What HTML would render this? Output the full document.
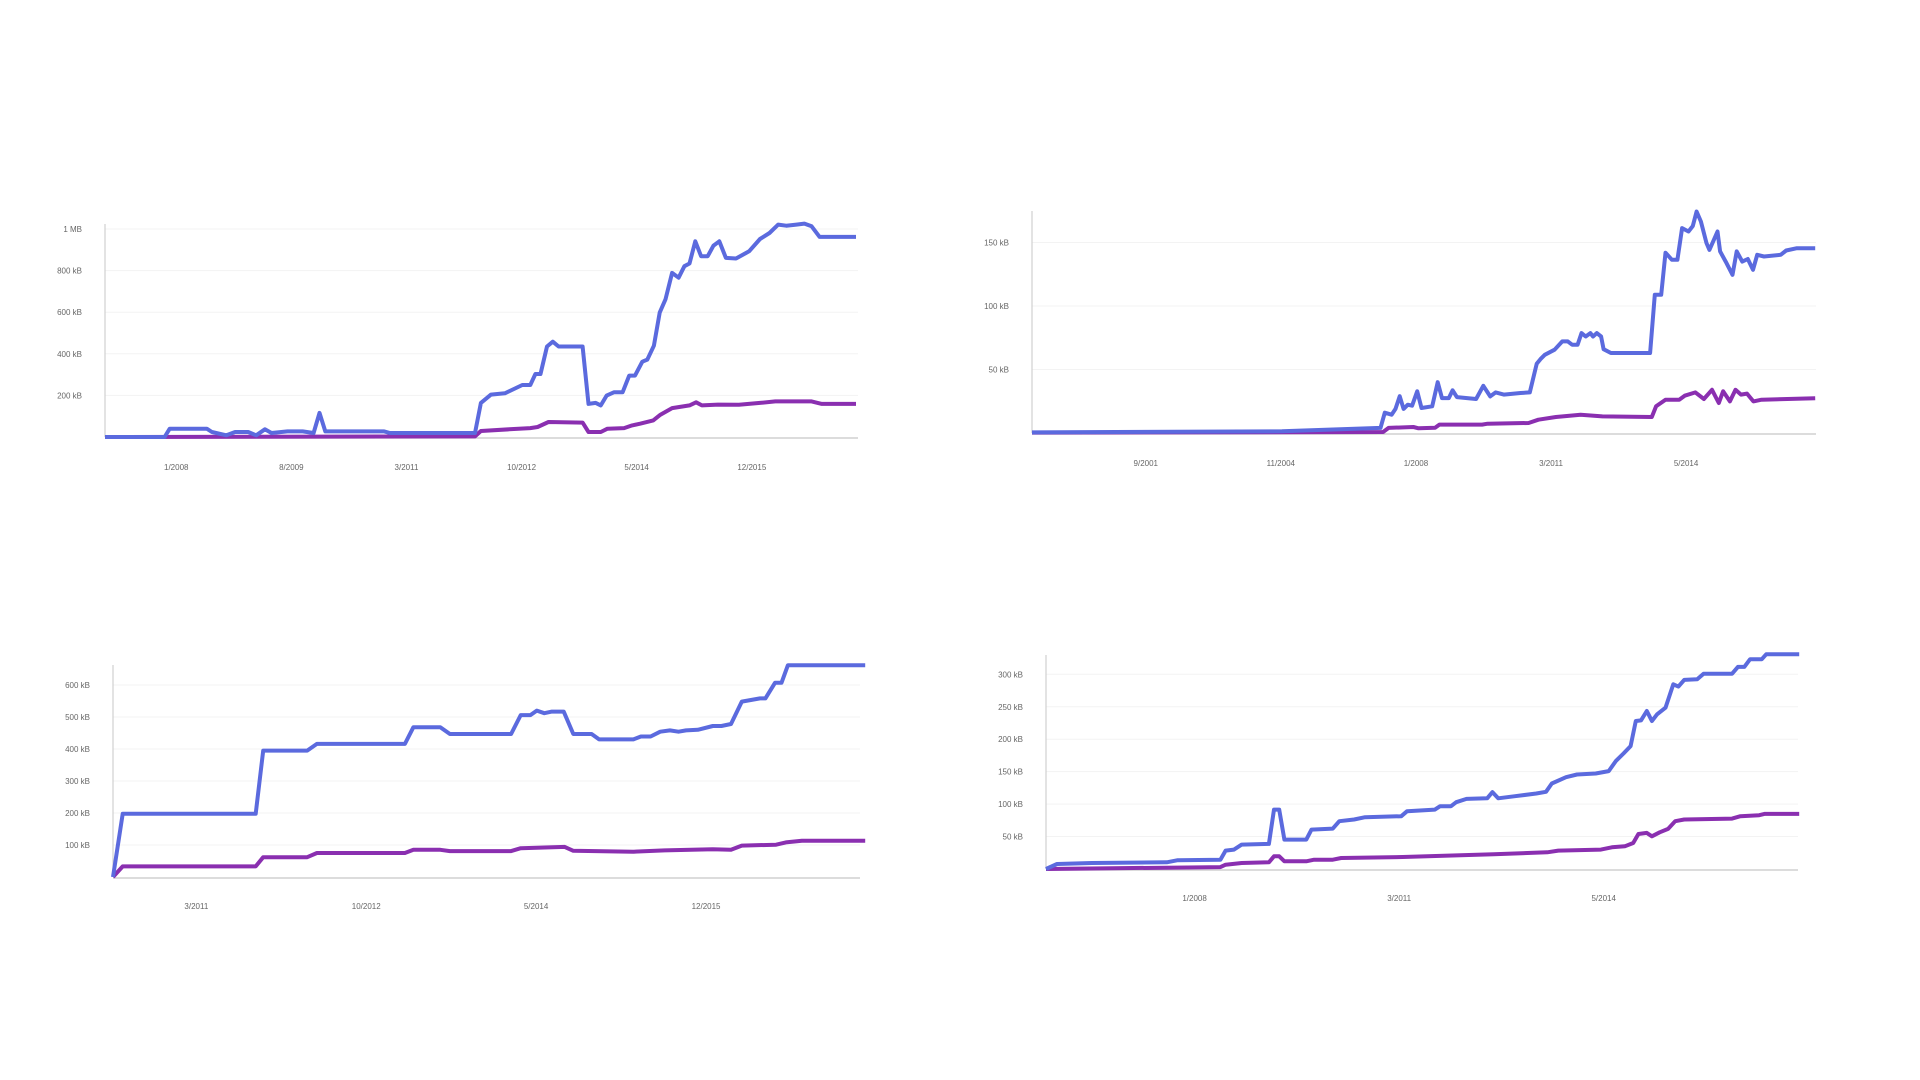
<!DOCTYPE html>
<html><head><meta charset="utf-8">
<style>
html,body{margin:0;padding:0;background:#fff;width:1920px;height:1080px;overflow:hidden}
svg{position:absolute;left:0;top:0}
text{font-family:"Liberation Sans",sans-serif;font-size:8px;fill:#666}
</style></head>
<body>
<svg id="chart" width="1920" height="1080" viewBox="0 0 1920 1080"></svg>
<script>
// Chart 1 data (years, kB)
const c1BlueX=[2007.02,2007.84,2007.91,2008.42,2008.49,2008.69,2008.81,2008.99,2009.1,2009.22,2009.31,2009.53,2009.74,2009.89,2009.97,2010.05,2010.86,2010.94,2012.11,2012.19,2012.33,2012.52,2012.76,2012.87,2012.94,2013.01,2013.1,2013.18,2013.26,2013.59,2013.67,2013.77,2013.84,2013.92,2014.02,2014.14,2014.23,2014.31,2014.41,2014.48,2014.57,2014.65,2014.73,2014.82,2014.91,2014.99,2015.06,2015.14,2015.22,2015.31,2015.39,2015.47,2015.56,2015.7,2015.88,2016.03,2016.16,2016.28,2016.39,2016.53,2016.64,2016.74,2016.85,2017.35];
const c1BlueY=[0,0,40,40,24,8,24,24,8,37,19,27,27,19,116,27,27,19,19,164,204,210,250,250,303,303,435,458,435,435,159,164,152,199,215,215,295,295,362,372,439,598,662,789,766,821,834,941,869,869,920,941,861,858,893,952,981,1021,1016,1021,1026,1013,962,962];
const c1PurpX=[2007.02,2012.11,2012.19,2012.58,2012.87,2012.97,2013.12,2013.59,2013.67,2013.84,2013.93,2014.16,2014.27,2014.38,2014.56,2014.66,2014.82,2015.06,2015.15,2015.23,2015.45,2015.74,2016.03,2016.24,2016.74,2016.88,2017.35];
const c1PurpY=[0,3,29,37,43,48,72,69,24,24,40,43,56,64,80,107,139,152,167,152,156,155,164,171,171,159,159];
const c1YTicks=[200,400,600,800,1000];
const c1YLabels=["200 kB","400 kB","600 kB","800 kB","1 MB"];
const c1XTicks=[2008.0,2009.583,2011.167,2012.75,2014.333,2015.917];
const c1XLabels=["1/2008","8/2009","3/2011","10/2012","5/2014","12/2015"];

// Chart 2 data
const c2BlueX=[1999.0,2004.86,2007.17,2007.27,2007.43,2007.52,2007.62,2007.71,2007.81,2007.91,2008.03,2008.13,2008.38,2008.51,2008.61,2008.77,2008.86,2008.96,2009.41,2009.58,2009.74,2009.87,2010.06,2010.45,2010.67,2010.83,2010.92,2011.02,2011.25,2011.43,2011.56,2011.66,2011.79,2011.88,2011.98,2012.09,2012.15,2012.24,2012.34,2012.4,2012.57,2013.49,2013.6,2013.75,2013.85,2014.0,2014.13,2014.24,2014.39,2014.49,2014.58,2014.68,2014.81,2014.88,2015.0,2015.07,2015.13,2015.26,2015.42,2015.52,2015.65,2015.78,2015.9,2016.0,2016.16,2016.55,2016.68,2016.93,2017.36];
const c2BlueY=[0.5,1.3,4,16,14.4,19,29,19,22.3,21.5,32.8,19.7,21,40,27.5,27.5,33.6,28.3,26.8,37.2,28.8,32,30.2,31.5,32,54.5,58.2,61.6,65.6,72.1,72.1,69.5,69.5,78.7,76,78.7,76,78.7,76,66,63,63,108.8,108.8,142,136.4,136.4,161.3,158.7,163,174.4,166.5,149.5,144.2,153.4,158.7,143,135,124.6,143,135,137,128.5,140.3,139,140.3,143.7,145.5,145.5];
const c2PurpX=[1999.0,2007.23,2007.36,2007.94,2008.06,2008.45,2008.55,2009.55,2009.68,2010.64,2010.87,2011.28,2011.86,2012.37,2013.53,2013.63,2013.85,2014.17,2014.3,2014.55,2014.75,2014.94,2015.1,2015.2,2015.36,2015.49,2015.62,2015.76,2015.91,2016.1,2017.36];
const c2PurpY=[0.3,0.8,4,4.7,3.7,4.2,6.6,6.6,7.3,7.9,10.5,12.6,14.4,13.1,12.6,21,26.2,26.2,29.4,32,26.8,34,23.6,32.8,24.9,34,30.2,31,24.9,26.2,27.3];
const c2YTicks=[50,100,150];
const c2YLabels=["50 kB","100 kB","150 kB"];
const c2XTicks=[2001.667,2004.833,2008.0,2011.167,2014.333];
const c2XLabels=["9/2001","11/2004","1/2008","3/2011","5/2014"];

// Chart 3 data
const c3BlueX=[2010.39,2010.48,2011.72,2011.79,2012.2,2012.29,2013.11,2013.19,2013.44,2013.53,2014.1,2014.19,2014.28,2014.34,2014.41,2014.48,2014.59,2014.68,2014.85,2014.92,2015.24,2015.31,2015.4,2015.49,2015.58,2015.66,2015.73,2015.84,2015.98,2016.06,2016.15,2016.25,2016.42,2016.47,2016.56,2016.62,2016.68,2017.4];
const c3BlueY=[0,197.6,197.6,395,395,416,416,468,468,447,447,506,506,520,512,517,517,447,447,430,430,439,439,454,458,454,458,460,472,472,478,548,558,558,607,607,662,662];
const c3PurpX=[2010.39,2010.48,2011.72,2011.79,2012.2,2012.29,2013.11,2013.19,2013.44,2013.53,2014.1,2014.19,2014.6,2014.68,2015.24,2015.53,2015.98,2016.15,2016.25,2016.57,2016.66,2016.81,2017.4];
const c3PurpY=[0,33,33,62,62,75,75,85,85,81,81,90,94,82,79,83,87,85,98,101,108,113,113];
const c3YTicks=[100,200,300,400,500,600];
const c3YLabels=["100 kB","200 kB","300 kB","400 kB","500 kB","600 kB"];
const c3XTicks=[2011.167,2012.75,2014.333,2015.917];
const c3XLabels=["3/2011","10/2012","5/2014","12/2015"];

// Chart 4 data
const c4BlueX=[2005.7,2005.87,2006.41,2007.57,2007.73,2008.4,2008.48,2008.61,2008.73,2009.15,2009.23,2009.31,2009.39,2009.73,2009.81,2010.14,2010.24,2010.47,2010.64,2011.2,2011.29,2011.72,2011.8,2011.97,2012.05,2012.21,2012.53,2012.61,2012.7,2012.96,2013.29,2013.44,2013.53,2013.75,2013.92,2014.21,2014.41,2014.52,2014.64,2014.75,2014.83,2014.91,2015.0,2015.08,2015.16,2015.29,2015.41,2015.49,2015.58,2015.78,2015.88,2016.32,2016.41,2016.51,2016.6,2016.78,2016.85,2017.36];
const c4BlueY=[0,7.7,9.3,10.3,13.4,14.4,28.3,29.9,37.6,38.6,91.6,91.6,45.3,45.3,60.7,62.3,73.6,76.2,79.8,81.3,89,91.6,96.8,96.8,103,108,109,118.5,109,112.2,116.3,118.9,131.8,141.5,145.6,147.2,150.8,166.2,178,189.4,228,229,243.4,228,238.3,248.6,284.6,281,291.3,292.3,301,301,311.4,311.4,323.2,323.2,331,331];
const c4PurpX=[2005.7,2008.4,2008.48,2008.73,2009.15,2009.23,2009.31,2009.39,2009.73,2009.85,2010.14,2010.27,2011.22,2012.63,2013.46,2013.63,2014.29,2014.46,2014.66,2014.79,2014.87,2015.0,2015.08,2015.2,2015.33,2015.44,2015.58,2016.32,2016.45,2016.74,2016.82,2017.36];
const c4PurpY=[0,3,6.7,9.3,10.3,19.6,19.6,11.8,11.8,14.4,14.4,17,18.5,22.6,25.7,28.3,29.9,33.5,35,40.1,54,55.6,50.4,56.6,61.8,73.6,76.2,77.7,81.3,82.9,84.9,84.9];
const c4YTicks=[50,100,150,200,250,300];
const c4YLabels=["50 kB","100 kB","150 kB","200 kB","250 kB","300 kB"];
const c4XTicks=[2008.0,2011.167,2014.333];
const c4XLabels=["1/2008","3/2011","5/2014"];

const NS="http://www.w3.org/2000/svg";
const svg=document.getElementById('chart');
function mk(tag,attrs,parent){const e=document.createElementNS(NS,tag);for(const k in attrs)e.setAttribute(k,attrs[k]);(parent||svg).appendChild(e);return e;}

function drawChart(name,g,bx,by,px,py,yt,yl,xt,xl){
  const grp=mk('g',{});
  
  
  const sx=v=>g.axX+(v-g.refYear)*g.pxYr;
  const sy=v=>g.base-v*g.pxKB;
  yt.forEach((t,i)=>{
    const gl=mk('line',{x1:g.axX,x2:g.right,y1:sy(t),y2:sy(t),stroke:'#f3f3f3','stroke-width':1},grp);
    
    
    const tx=mk('text',{x:g.axX-23,y:sy(t)+3,'text-anchor':'end'},grp);
    tx.textContent=yl[i];
    
    
  });
  xt.forEach((t,i)=>{
    const tx=mk('text',{x:sx(t),y:g.labY,'text-anchor':'middle'},grp);
    tx.textContent=xl[i];
    
    
  });
  const ya=mk('line',{x1:g.axX,x2:g.axX,y1:g.top,y2:g.base,stroke:'#d0d0d0','stroke-width':1.2},grp);
  
  
  const xa=mk('line',{x1:g.axX,x2:g.right,y1:g.base+1,y2:g.base+1,stroke:'#d0d0d0','stroke-width':1.5},grp);
  
  
  const pts=(X,Y)=>X.map((x,i)=>sx(x).toFixed(1)+','+sy(Y[i]).toFixed(1)).join(' ');
  const pl=mk('polyline',{points:pts(px,py),fill:'none',stroke:'#8a2fb0','stroke-width':4,'stroke-linejoin':'round'},grp);
  
  
  const bl=mk('polyline',{points:pts(bx,by),fill:'none',stroke:'#5b6ade','stroke-width':4,'stroke-linejoin':'round'},grp);
  
  
}

drawChart('chart-top-left',{axX:105,top:224,base:437,right:858,pxKB:0.208,pxYr:72.7,refYear:2007.02,labY:470},c1BlueX,c1BlueY,c1PurpX,c1PurpY,c1YTicks,c1YLabels,c1XTicks,c1XLabels);
drawChart('chart-top-right',{axX:1032,top:211,base:433,right:1816,pxKB:1.27,pxYr:42.66,refYear:1999.0,labY:466},c2BlueX,c2BlueY,c2PurpX,c2PurpY,c2YTicks,c2YLabels,c2XTicks,c2XLabels);
drawChart('chart-bottom-left',{axX:113,top:665,base:877,right:860,pxKB:0.32,pxYr:107.3,refYear:2010.39,labY:909},c3BlueX,c3BlueY,c3PurpX,c3PurpY,c3YTicks,c3YLabels,c3XTicks,c3XLabels);
drawChart('chart-bottom-right',{axX:1046,top:655,base:869,right:1798,pxKB:0.649,pxYr:64.6,refYear:2005.7,labY:901},c4BlueX,c4BlueY,c4PurpX,c4PurpY,c4YTicks,c4YLabels,c4XTicks,c4XLabels);
</script>
</body></html>
